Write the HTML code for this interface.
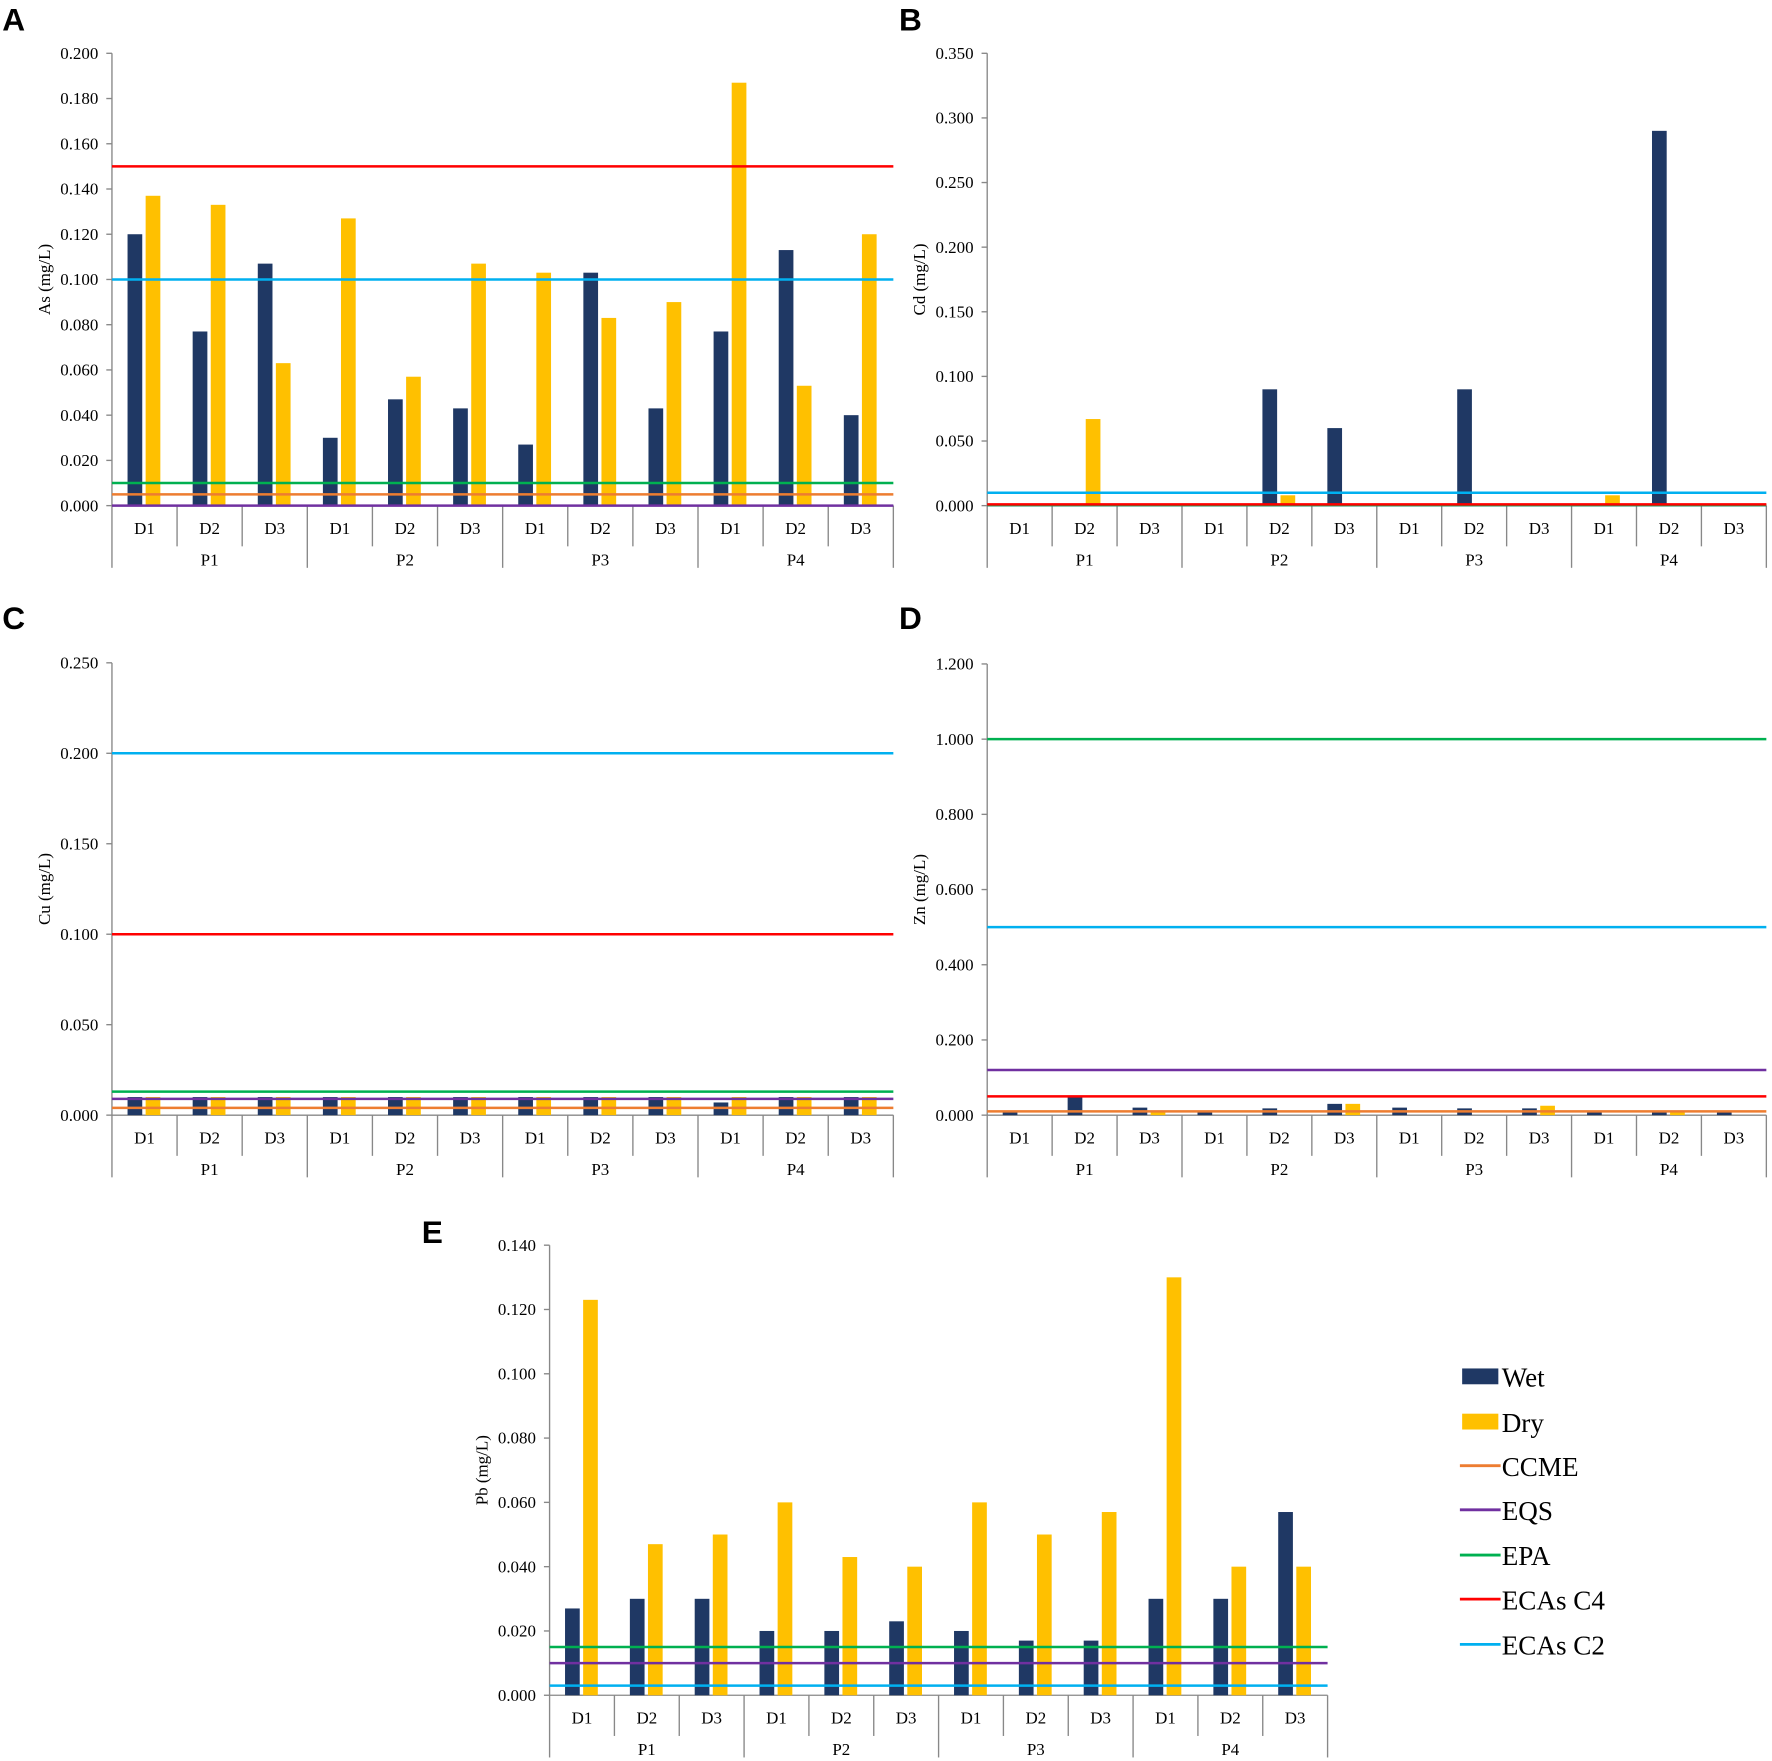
<!DOCTYPE html>
<html><head><meta charset="utf-8"><style>
html,body{margin:0;padding:0;background:#fff;}
svg{display:block;}
text{font-family:"Liberation Serif",serif;fill:#000;}
.lbl{font-family:"Liberation Sans",sans-serif;font-weight:bold;}
</style></head><body>
<svg id="fig" width="1772" height="1761" viewBox="0 0 1567 1557" xmlns="http://www.w3.org/2000/svg"></svg>
<script>
const cats = ["D1","D2","D3","D1","D2","D3","D1","D2","D3","D1","D2","D3"];
const groups = ["P1","P2","P3","P4"];
const asWet = [0.120,0.077,0.107,0.030,0.047,0.043,0.027,0.103,0.043,0.077,0.113,0.040];
const asDry = [0.137,0.133,0.063,0.127,0.057,0.107,0.103,0.083,0.090,0.187,0.053,0.120];
const asRefs = [0.005,0.0,0.010,0.150,0.100];
const cdWet = [0,0,0,0,0.090,0.060,0,0.090,0,0,0.290,0];
const cdDry = [0,0.067,0,0,0.008,0,0,0,0,0.008,0,0];
const cdRefs = [0.0005,0.0003,0.0004,0.001,0.010];
const cuWet = [0.010,0.010,0.010,0.010,0.010,0.010,0.010,0.010,0.010,0.007,0.010,0.010];
const cuDry = [0.010,0.010,0.010,0.010,0.010,0.010,0.010,0.010,0.010,0.010,0.010,0.010];
const cuRefs = [0.004,0.009,0.013,0.100,0.200];
const znWet = [0.008,0.050,0.020,0.008,0.018,0.030,0.020,0.018,0.018,0.008,0.008,0.008];
const znDry = [0,0,0.010,0,0,0.030,0,0,0.025,0,0.010,0];
const znRefs = [0.010,0.120,1.000,0.050,0.500];
const pbWet = [0.027,0.030,0.030,0.020,0.020,0.023,0.020,0.017,0.017,0.030,0.030,0.057];
const pbDry = [0.123,0.047,0.050,0.060,0.043,0.040,0.060,0.050,0.057,0.130,0.040,0.040];
const pbRefs = [null,0.010,0.015,null,0.003];
const refNames = ["CCME","EQS","EPA","ECAs C4","ECAs C2"];
const refColors = ["#ED7D31","#7030A0","#00B050","#FF0000","#00B0F0"];
const WET="#1F3864", DRY="#FFC000";
const NS="http://www.w3.org/2000/svg";
const svg=document.getElementById('fig');
function el(tag,attrs,parent,txt){const e=document.createElementNS(NS,tag);for(const k in attrs)e.setAttribute(k,attrs[k]);if(txt!==undefined)e.textContent=txt;(parent||svg).appendChild(e);return e;}

function panel(o){
  const g=el('g',{});
  
  
  const L=el('text',{x:o.lx,y:o.ly,'font-size':28,class:'lbl'},g,o.letter);
  
  
  const {x0,x1,yTop,yBot,max,step}=o;
  const Y=v=>yBot-(v/max)*(yBot-yTop);
  const cw=(x1-x0)/cats.length;
  const X=i=>x0+cw*(i+0.5);
  // y axis
  el('line',{x1:x0,y1:yTop,x2:x0,y2:yBot,stroke:'#888','stroke-width':1.2},g);
  const n=Math.round(max/step);
  for(let k=0;k<=n;k++){
    const v=k*step,y=Y(v);
    el('line',{x1:x0-5,y1:y,x2:x0,y2:y,stroke:'#888','stroke-width':1.2},g);
    const t=el('text',{x:x0-12,y:y+5,'font-size':15,'text-anchor':'end'},g,v.toFixed(3));
    
    
  }
  const yt=el('text',{x:0,y:0,'font-size':15,'text-anchor':'middle',transform:`translate(${x0-55},${(yTop+yBot)/2}) rotate(-90)`},g,o.title);
  
  
  // x axis
  el('line',{x1:x0,y1:yBot,x2:x1,y2:yBot,stroke:'#888','stroke-width':1.2},g);
  for(let i=0;i<=cats.length;i++){
    const x=x0+cw*i;
    el('line',{x1:x,y1:yBot,x2:x,y2:(i%3===0)?yBot+55:yBot+36,stroke:'#888','stroke-width':1.2},g);
  }
  cats.forEach((c,i)=>{
    const t=el('text',{x:X(i),y:yBot+25,'font-size':15,'text-anchor':'middle'},g,c);
    
    
  });
  groups.forEach((p,j)=>{
    const t=el('text',{x:x0+cw*(3*j+1.5),y:yBot+53,'font-size':15,'text-anchor':'middle'},g,p);
    
    
  });
  // bars
  o.wet.forEach((v,i)=>{
    if(v<=0)return;
    const r=el('rect',{x:X(i)-15,y:Y(v),width:13,height:yBot-Y(v),fill:WET},g);
    
    
  });
  o.dry.forEach((v,i)=>{
    if(v<=0)return;
    const r=el('rect',{x:X(i)+1,y:Y(v),width:13,height:yBot-Y(v),fill:DRY},g);
    
    
  });
  // reference lines
  o.refs.forEach((v,k)=>{
    if(v===null)return;
    const ln=el('line',{x1:x0,y1:Y(v),x2:x1,y2:Y(v),stroke:refColors[k],'stroke-width':2.2},g);
    
    
  });
}
panel({letter:'A',lx:2,ly:27,x0:99,x1:790,yTop:47,yBot:447,max:0.2,step:0.02,title:'As (mg/L)',wet:asWet,dry:asDry,refs:asRefs});
panel({letter:'B',lx:795,ly:27,x0:873,x1:1562,yTop:47,yBot:447,max:0.35,step:0.05,title:'Cd (mg/L)',wet:cdWet,dry:cdDry,refs:cdRefs});
panel({letter:'C',lx:2,ly:556,x0:99,x1:790,yTop:586,yBot:986,max:0.25,step:0.05,title:'Cu (mg/L)',wet:cuWet,dry:cuDry,refs:cuRefs});
panel({letter:'D',lx:795,ly:556,x0:873,x1:1562,yTop:587,yBot:986,max:1.2,step:0.2,title:'Zn (mg/L)',wet:znWet,dry:znDry,refs:znRefs});
panel({letter:'E',lx:373,ly:1099,x0:486,x1:1174,yTop:1101,yBot:1499,max:0.14,step:0.02,title:'Pb (mg/L)',wet:pbWet,dry:pbDry,refs:pbRefs});

// legend
const lg=el('g',{});


const legY=[1218,1258,1297,1336,1376,1415,1455];
const entries=[["Wet",WET,'box'],["Dry",DRY,'box']].concat(refNames.map((n,k)=>[n,refColors[k],'line']));
entries.forEach((e,i)=>{
  const y=legY[i];
  const it=el('g',{},lg);
  
  
  if(e[2]==='box') el('rect',{x:1293,y:y-8,width:32,height:14,fill:e[1]},it);
  else el('line',{x1:1291,y1:y-1,x2:1327,y2:y-1,stroke:e[1],'stroke-width':2.5},it);
  el('text',{x:1328,y:y+8,'font-size':24},it,e[0]);
});
</script>
</body></html>
